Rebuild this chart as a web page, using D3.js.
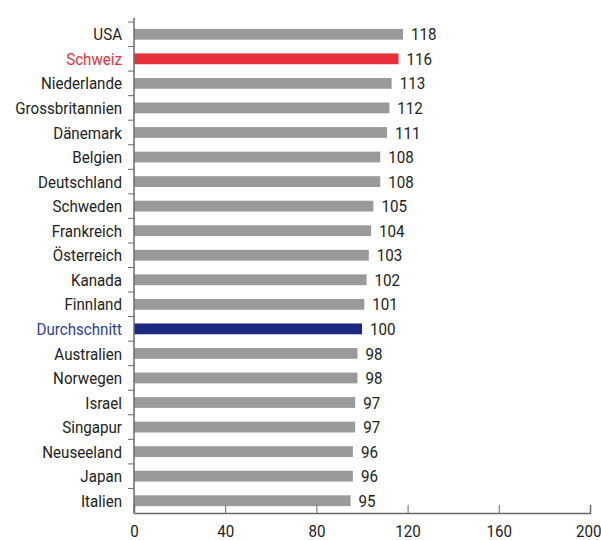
<!DOCTYPE html>
<html>
<head>
<meta charset="utf-8">
<script src="https://cdn.jsdelivr.net/npm/d3@7"></script>
<style>
  body { margin: 0; background: #fff; }
  svg text { font-family: Roboto, "Noto Sans", sans-serif; }
</style>
</head>
<body>
<div id="chart"></div>
<script>
const countries = [
    'USA', 'Schweiz', 'Niederlande', 'Grossbritannien', 'Dänemark', 'Belgien',
    'Deutschland', 'Schweden', 'Frankreich', 'Österreich', 'Kanada', 'Finnland',
    'Durchschnitt', 'Australien', 'Norwegen', 'Israel', 'Singapur', 'Neuseeland',
    'Japan', 'Italien'
]
const values = [118, 116, 113, 112, 111, 108, 108, 105, 104, 103, 102, 101, 100, 98, 98, 97, 97, 96, 96, 95]
const xTicks = [0, 40, 80, 120, 160, 200]

const highlight = { 'Schweiz': ['#e8303a', '#e8303a'], 'Durchschnitt': ['#1b2a80', '#2c3f99'] }

const width = 601
const height = 540
const margin = { left: 134, right: 11, top: 22, bottom: 27 }
const fontSize = 17
const squeeze = 0.89  // condensed look

const svg = d3.select('#chart')
    .append('svg')
    .attr('width', width)
    .attr('height', height)

const x = d3.scaleLinear()
    .domain([0, 200])
    .range([margin.left, width - margin.right])

const y = d3.scaleBand()
    .domain(countries)
    .range([margin.top, height - margin.bottom])
    .paddingInner(0.56)
    .paddingOuter(0.28)

const data = countries.map((c, i) => ({ name: c, value: values[i] }))

svg.selectAll('rect.bar')
    .data(data)
    .enter()
    .append('rect')
    .attr('class', 'bar')
    .attr('x', x(0))
    .attr('y', (d) => y(d.name))
    .attr('width', (d) => x(d.value) - x(0))
    .attr('height', y.bandwidth())
    .attr('fill', (d) => highlight[d.name] ? highlight[d.name][0] : '#9a9a9a')

svg.selectAll('text.value')
    .data(data)
    .enter()
    .append('text')
    .attr('class', 'value')
    .attr('transform', (d) => `translate(${x(d.value) + 8}, ${y(d.name) + y.bandwidth() / 2}) scale(${squeeze}, 1)`)
    .attr('dy', '0.36em')
    .attr('font-size', fontSize)
    .attr('fill', '#222')
    .text((d) => d.value)

svg.selectAll('text.cat')
    .data(data)
    .enter()
    .append('text')
    .attr('class', 'cat')
    .attr('transform', (d) => `translate(${margin.left - 12}, ${y(d.name) + y.bandwidth() / 2}) scale(${squeeze}, 1)`)
    .attr('dy', '0.36em')
    .attr('text-anchor', 'end')
    .attr('font-size', fontSize)
    .attr('fill', (d) => highlight[d.name] ? highlight[d.name][1] : '#222')
    .text((d) => d.name)

// y axis line with ticks at band boundaries
const axisColor = '#6b6b6b'
const yBottom = height - margin.bottom
svg.append('line')
    .attr('x1', x(0)).attr('x2', x(0))
    .attr('y1', margin.top - 4).attr('y2', yBottom)
    .attr('stroke', axisColor).attr('stroke-width', 1.5)

const bounds = d3.range(countries.length).map((i) => margin.top + i * y.step())
svg.selectAll('line.ytick')
    .data(bounds)
    .enter()
    .append('line')
    .attr('class', 'ytick')
    .attr('x1', x(0) - 6).attr('x2', x(0))
    .attr('y1', (d) => d).attr('y2', (d) => d)
    .attr('stroke', axisColor).attr('stroke-width', 1)

// x axis
const xAxis = svg.append('g')
    .attr('transform', `translate(0, ${yBottom})`)
    .call(d3.axisBottom(x).tickValues(xTicks).tickSize(-8).tickPadding(12))
xAxis.select('.domain').attr('stroke', axisColor).attr('stroke-width', 1.5)
xAxis.selectAll('line').attr('stroke', axisColor)
xAxis.selectAll('text')
    .attr('font-size', fontSize)
    .attr('fill', '#222')
    .attr('font-family', 'Roboto, sans-serif')
    .attr('transform', `scale(${squeeze}, 1)`)
    .attr('dx', (d) => d === 200 ? -2 : 0)
</script>
</body>
</html>
